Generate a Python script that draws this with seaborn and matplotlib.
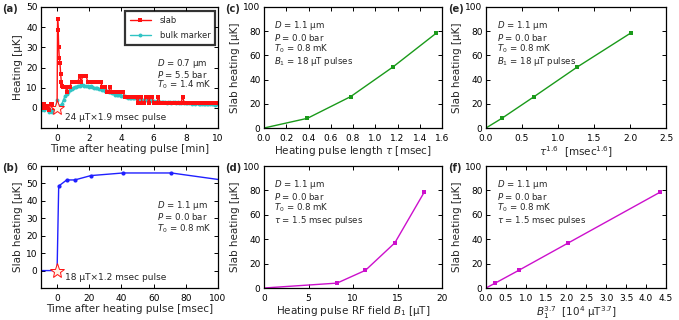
import numpy as np
import matplotlib
matplotlib.use('Agg')
import matplotlib.pyplot as plt
import seaborn as sns

# ---- panel (a): slab and bulk marker heating vs time [min] ----
slab_t = [-1.0, -0.9, -0.8, -0.7, -0.6, -0.5, -0.4, -0.3, -0.2, -0.1, 0.0,
          0.03, 0.07, 0.1, 0.14, 0.18, 0.22, 0.26, 0.3, 0.35,
          0.4, 0.5, 0.6, 0.7, 0.8, 0.9, 1.0, 1.1, 1.2, 1.3, 1.4, 1.5, 1.6, 1.7, 1.8, 1.9,
          2.0, 2.1, 2.2, 2.3, 2.4, 2.5, 2.6, 2.7, 2.8, 2.9, 3.0, 3.1, 3.2, 3.3, 3.4, 3.5,
          3.6, 3.7, 3.8, 3.9, 4.0, 4.1, 4.2, 4.3, 4.4, 4.5, 4.6, 4.7, 4.8, 4.9, 5.0, 5.1,
          5.2, 5.3, 5.4, 5.5, 5.6, 5.7, 5.8, 5.9, 6.0, 6.1, 6.2, 6.3, 6.4, 6.5, 6.6, 6.7,
          6.8, 6.9, 7.0, 7.1, 7.2, 7.3, 7.4, 7.5, 7.6, 7.7, 7.8, 7.9, 8.0, 8.1, 8.2, 8.3,
          8.4, 8.5, 8.6, 8.7, 8.8, 8.9, 9.0, 9.1, 9.2, 9.3, 9.4, 9.5, 9.6, 9.7, 9.8, 9.9, 10.0]
slab_h = [0, 0, 2, 0, 1, -1, 2, 2, 0, 0, 0,
          44, 38.5, 30, 24.5, 22, 17, 13, 11, 10.5,
          10.5, 10.5, 8, 10.5, 10.5, 13, 13, 13, 13, 13, 16, 13, 16, 16, 16, 13,
          13, 13, 13, 13, 13, 13, 13, 13, 10.5, 10.5, 10.5, 8, 8, 10.5, 8, 8,
          8, 8, 8, 8, 8, 8, 5.5, 5.5, 5.5, 5.5, 5.5, 5.5, 5.5, 5.5, 2.5, 5.5,
          5.5, 2.5, 2.5, 5.5, 5.5, 2.5, 5.5, 5.5, 2.5, 2.5, 2.5, 5.5, 2.5, 2.5, 2.5, 2.5,
          2.5, 2.5, 2.5, 2.5, 2.5, 2.5, 2.5, 2.5, 2.5, 2.5, 5.5, 2.5, 2.5, 2.5, 2.5, 2.5,
          2.5, 2.5, 2.5, 2.5, 2.5, 2.5, 2.5, 2.5, 2.5, 2.5, 2.5, 2.5, 2.5, 2.5, 2.5, 2.5, 2.5]

bulk_t = [-1.0, -0.9, -0.8, -0.7, -0.6, -0.5, -0.4, -0.3, -0.2, -0.1, 0.0, 0.1, 0.2,
          0.3, 0.4, 0.5, 0.6, 0.7, 0.8, 0.9, 1.0, 1.1, 1.2, 1.3, 1.4, 1.5, 1.6, 1.7, 1.8,
          1.9, 2.0, 2.1, 2.2, 2.3, 2.4, 2.5, 2.6, 2.7, 2.8, 2.9, 3.0, 3.1, 3.2, 3.3, 3.4,
          3.5, 3.6, 3.7, 3.8, 3.9, 4.0, 4.1, 4.2, 4.3, 4.4, 4.5, 4.6, 4.7, 4.8, 4.9, 5.0,
          5.1, 5.2, 5.3, 5.4, 5.5, 5.6, 5.7, 5.8, 5.9, 6.0, 6.1, 6.2, 6.3, 6.4, 6.5, 6.6,
          6.7, 6.8, 6.9, 7.0, 7.1, 7.2, 7.3, 7.4, 7.5, 7.6, 7.7, 7.8, 7.9, 8.0, 8.1, 8.2,
          8.3, 8.4, 8.5, 8.6, 8.7, 8.8, 8.9, 9.0, 9.1, 9.2, 9.3, 9.4, 9.5, 9.6, 9.7, 9.8,
          9.9, 10.0]
bulk_h = [-1, 0, -1, 0, 1, -2, -1, -2, -1, 0, 4, 1, 1,
          2, 4, 6, 7, 8, 9, 9.5, 10, 10.5, 10.5, 11, 11, 11.5, 11.5, 11, 11,
          11, 10.5, 11, 10.5, 10, 10, 10, 9.5, 9.5, 9, 9, 8.5, 8.5, 8, 8, 7.5,
          7.5, 6.5, 6.5, 6.5, 6.5, 6, 6, 6, 5.5, 5, 5, 5, 5, 5, 5, 4.5,
          4, 4.5, 4, 4, 4, 4, 3.5, 4, 3.5, 3.5, 3, 3.5, 3, 3, 3, 3,
          3, 2.5, 3, 3, 2.5, 3, 3, 2.5, 3, 2.5, 2.5, 3, 2.5, 2.5, 2.5, 2.5,
          2.5, 2, 2.5, 2, 2.5, 2, 2, 2, 2, 2, 2, 2, 2, 2, 2, 1.5,
          2, 2]

# ---- panel (b): slab heating vs time [msec] ----
b_t = [-10, 0, 1, 6, 11, 21, 41, 71, 110]
b_h = [0, 0, 48.5, 52, 52, 54.5, 56, 56, 51]

# ---- panels (c)-(f): pulse length and field dependence ----
tau = [0, 0.39, 0.78, 1.16, 1.55]
tau_heat = [0, 8, 26, 50.5, 78.5]
tau16 = [0, 0.22, 0.67, 1.27, 2.01]

b1 = [0, 8.2, 11.4, 14.7, 18.0]
b1_heat = [0, 4, 14.5, 37, 78.5]
b1_37 = [0, 0.23, 0.82, 2.06, 4.35]

sns.set_style('ticks')
plt.rcParams['font.family'] = ['DejaVu Sans']
plt.rcParams['mathtext.fontset'] = 'dejavusans'
plt.rcParams['xtick.direction'] = 'in'
plt.rcParams['ytick.direction'] = 'in'
plt.rcParams['xtick.top'] = True
plt.rcParams['ytick.right'] = True
plt.rcParams['xtick.labelsize'] = 6.5
plt.rcParams['ytick.labelsize'] = 6.5
plt.rcParams['axes.labelsize'] = 7.5
plt.rcParams['axes.linewidth'] = 0.9
plt.rcParams['axes.edgecolor'] = 'black'

W, H = 679, 320
fig = plt.figure(figsize=(W / 100, H / 100), dpi=100)


def box(l, t, r, b):
    return [l / W, 1 - b / H, (r - l) / W, (b - t) / H]


ax_a = fig.add_axes(box(41, 7, 218, 128))
ax_b = fig.add_axes(box(41, 166, 218, 288))
ax_c = fig.add_axes(box(264, 7, 442, 128))
ax_d = fig.add_axes(box(264, 166, 442, 288))
ax_e = fig.add_axes(box(486, 7, 666, 128))
ax_f = fig.add_axes(box(486, 166, 666, 288))

for ax in [ax_a, ax_b, ax_c, ax_d, ax_e, ax_f]:
    ax.tick_params(length=3, width=0.7, colors='black')
    ax.tick_params(axis='x', pad=4)
    ax.tick_params(axis='y', pad=2.5)

red = '#ff1010'
cyan = '#30c4c4'
blue = '#2020ff'
green = '#1a9a1a'
magenta = '#cc10cc'
txt = 6.2

# (a)
sns.lineplot(x=bulk_t, y=bulk_h, ax=ax_a, color=cyan, lw=1, marker='o', ms=2.8,
             mew=0, label='bulk marker', sort=False)
sns.lineplot(x=slab_t, y=slab_h, ax=ax_a, color=red, lw=1, marker='s', ms=2.8,
             mew=0, label='slab', sort=False)
ax_a.plot(0, 0, marker='*', ms=11, mfc='#fff3e6', mec=red, mew=0.7, zorder=10)
ax_a.set_xlim(-1, 10)
ax_a.set_ylim(-10, 50)
ax_a.set_xticks([0, 2, 4, 6, 8, 10])
ax_a.set_yticks([0, 10, 20, 30, 40, 50])
ax_a.set_xlabel('Time after heating pulse [min]', labelpad=1)
ax_a.set_ylabel('Heating [µK]', labelpad=2)
h, l = ax_a.get_legend_handles_labels()
leg = ax_a.legend(h[::-1], l[::-1], loc='upper right', bbox_to_anchor=(0.985, 0.965),
                  borderaxespad=0, fontsize=6, frameon=True, fancybox=False,
                  handlelength=2.6, borderpad=0.6, labelspacing=0.7, handletextpad=1.0)
leg.get_frame().set_edgecolor('black')
leg.get_frame().set_linewidth(1.6)
ax_a.text(0.655, 0.585, '\n'.join(['$D$ = 0.7 µm', '$P$ = 5.5 bar', '$T_0$ = 1.4 mK']),
          transform=ax_a.transAxes, fontsize=txt, va='top', ha='left', linespacing=0.85)
ax_a.text(0.136, 0.083, '24 µT×1.9 msec pulse', transform=ax_a.transAxes,
          fontsize=6.5, va='center', ha='left')

# (b)
sns.lineplot(x=b_t, y=b_h, ax=ax_b, color=blue, lw=1, marker='o', ms=3,
             mew=0, markevery=slice(2, 8), sort=False)
ax_b.plot(0, 0, marker='*', ms=11, mfc='#fff3e6', mec=red, mew=0.7, zorder=10)
ax_b.set_xlim(-10, 100)
ax_b.set_ylim(-10, 60)
ax_b.set_xticks([0, 20, 40, 60, 80, 100])
ax_b.set_yticks([0, 10, 20, 30, 40, 50, 60])
ax_b.set_xlabel('Time after heating pulse [msec]', labelpad=1)
ax_b.set_ylabel('Slab heating [µK]', labelpad=2)
ax_b.text(0.655, 0.73, '\n'.join(['$D$ = 1.1 µm', '$P$ = 0.0 bar', '$T_0$ = 0.8 mK']),
          transform=ax_b.transAxes, fontsize=txt, va='top', ha='left', linespacing=0.95)
ax_b.text(0.136, 0.082, '18 µT×1.2 msec pulse', transform=ax_b.transAxes,
          fontsize=6.5, va='center', ha='left')

# (c)-(f)
common = ['$D$ = 1.1 µm', '$P$ = 0.0 bar', '$T_0$ = 0.8 mK']
panels = [
    (ax_c, tau, tau_heat, green, (0, 1.6), np.arange(0, 1.61, 0.2), '%.1f',
     r'Heating pulse length $\tau$ [msec]', '$B_1$ = 18 µT pulses', 0.056),
    (ax_d, b1, b1_heat, magenta, (0, 20), [0, 5, 10, 15, 20], '%d',
     'Heating pulse RF field $B_1$ [µT]', r'$\tau$ = 1.5 msec pulses', 0.056),
    (ax_e, tau16, tau_heat, green, (0, 2.5), np.arange(0, 2.51, 0.5), '%.1f',
     r'$\tau^{1.6}$  [msec$^{1.6}$]', '$B_1$ = 18 µT pulses', 0.059),
    (ax_f, b1_37, b1_heat, magenta, (0, 4.5), np.arange(0, 4.51, 0.5), '%.1f',
     '$B_1^{3.7}$  [10$^4$ µT$^{3.7}$]', r'$\tau$ = 1.5 msec pulses', 0.059),
]
for ax, x, y, c, xl, xt, fmt, xlab, last, tx in panels:
    sns.lineplot(x=x, y=y, ax=ax, color=c, lw=1, marker='s', ms=3, mew=0,
                 markevery=slice(1, None), sort=False)
    ax.set_xlim(*xl)
    ax.set_ylim(0, 100)
    ax.set_xticks(xt)
    ax.set_xticklabels([fmt % v for v in xt])
    ax.set_yticks([0, 20, 40, 60, 80, 100])
    ax.set_xlabel(xlab, labelpad=1)
    ax.set_ylabel('Slab heating [µK]', labelpad=2)
    ax.text(tx, 0.9, '\n'.join(common + [last]), transform=ax.transAxes,
            fontsize=txt, va='top', ha='left', linespacing=0.97)

for lab, x, y in [('(a)', 2, 9), ('(b)', 2, 168), ('(c)', 225, 9),
                  ('(d)', 225, 168), ('(e)', 448, 9), ('(f)', 448, 168)]:
    fig.text(x / W, 1 - y / H, lab, fontsize=7.2, fontweight='bold',
             va='center', ha='left')

fig.savefig('out.png', dpi=100)
